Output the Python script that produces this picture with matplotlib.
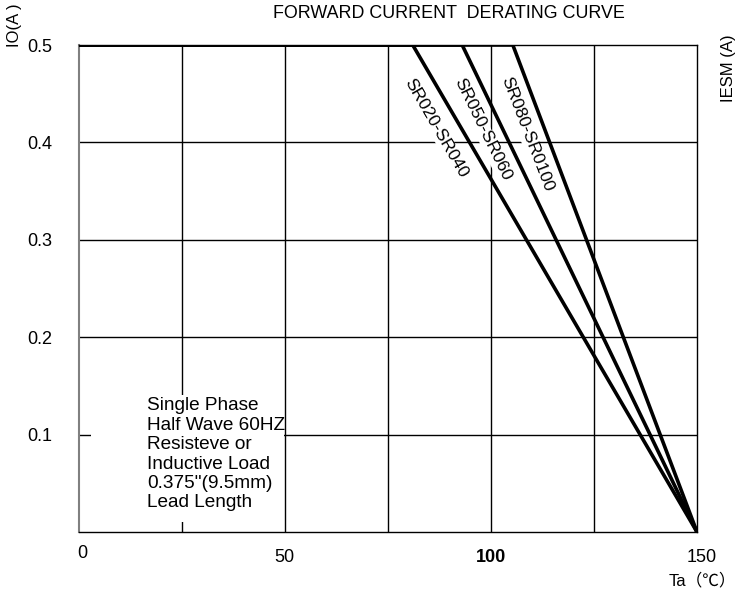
import matplotlib
matplotlib.use("Agg")
import matplotlib.pyplot as plt
from matplotlib.patches import Rectangle

plt.rcParams['font.family'] = ['Liberation Sans', 'DejaVu Sans', 'Noto Sans CJK SC']

# ---- data ----
series_names = ["SR020-SR040", "SR050-SR060", "SR080-SR0100"]
knee_temps = [81.0, 93.0, 105.3]      # Ta where derating begins
max_current = 0.5                     # IO (A)
end_temp = 150.0                      # current reaches 0
x_ticks = [0, 50, 100, 150]
x_tick_labels = ["0", "50", "100", "150"]
y_ticks = [0.1, 0.2, 0.3, 0.4, 0.5]
y_tick_labels = ["0.1", "0.2", "0.3", "0.4", "0.5"]
x_grid = [25, 50, 75, 100, 125]
y_grid = [0.1, 0.2, 0.3, 0.4]
note_lines = ["Single Phase", "Half Wave 60HZ", "Resisteve or",
              "Inductive Load", "0.375''(9.5mm)", "Lead Length"]

W, H = 735, 594
fig = plt.figure(figsize=(W / 100, H / 100), dpi=100)
ax = fig.add_axes([79 / W, 1 - 532 / H, 618 / W, 487 / H])
ax.set_xlim(0, 150)
ax.set_ylim(0, 0.5)

fs = 13
# grid
for gx in x_grid:
    ax.axvline(gx, color='black', lw=1.0, zorder=1)
for gy in y_grid:
    ax.axhline(gy, color='black', lw=1.0, zorder=1)

# white background of the note
ax.add_patch(Rectangle((0.0194, 0.0205), 0.3123, 0.2608, transform=ax.transAxes,
                       facecolor='white', edgecolor='none', zorder=2))
ax.text(0.110, 0.277, "\n".join(note_lines), transform=ax.transAxes,
        ha='left', va='top', fontsize=13.7, linespacing=1.19, zorder=3)

# curves
for name, k in zip(series_names, knee_temps):
    ax.plot([0, k, end_temp], [max_current, max_current, 0], color='black',
            lw=2.6, solid_capstyle='round', solid_joinstyle='miter', zorder=5)

# curve labels (rotated parallel to each curve)
label_pos = [(86.7, 0.415), (97.9, 0.413), (108.7, 0.409)]
label_rot = [-60, -64, -69]
for name, (lx, ly), rot in zip(series_names, label_pos, label_rot):
    ax.text(lx, ly, name, rotation=rot, rotation_mode='anchor', ha='center', va='center',
            fontsize=12.5, zorder=4,
            bbox=dict(facecolor='white', edgecolor='none', pad=0.5))

# spines
ax.spines['left'].set_color('#808080')
ax.spines['left'].set_linewidth(1.5)
for s in ['bottom', 'right', 'top']:
    ax.spines[s].set_color('black')
    ax.spines[s].set_linewidth(1.0)

# ticks
ax.set_yticks(y_ticks)
ax.set_yticklabels(y_tick_labels, fontsize=fs)
ax.tick_params(axis='y', length=0, pad=19)
ax.set_xticks([])

offsets = [(3, -21), (-1, -25), (0, -25), (5, -25)]
for xv, lab, (dx, dy) in zip(x_ticks, x_tick_labels, offsets):
    ax.annotate(lab, xy=(xv, 0), xycoords=('data', 'axes fraction'),
                xytext=(dx, dy), textcoords='offset pixels', ha='center', va='center',
                fontsize=fs, fontweight='bold' if lab == "100" else 'normal')

ax.annotate("Ta（℃）", xy=(150, 0), xycoords=('data', 'axes fraction'),
            xytext=(5, -48), textcoords='offset pixels', ha='center', va='center',
            fontsize=12, family=['Liberation Sans', 'Noto Sans CJK SC'])

fig.text(14 / W, 1 - 25 / H, "IO(A )", rotation=90, ha='center', va='center', fontsize=12)
fig.text(729 / W, 1 - 68 / H, "IESM (A)", rotation=90, ha='center', va='center', fontsize=12)
fig.text(449 / W, 1 - 14 / H, "FORWARD CURRENT  DERATING CURVE", ha='center', va='center',
         fontsize=12.9)

fig.savefig("out.png", dpi=100)
